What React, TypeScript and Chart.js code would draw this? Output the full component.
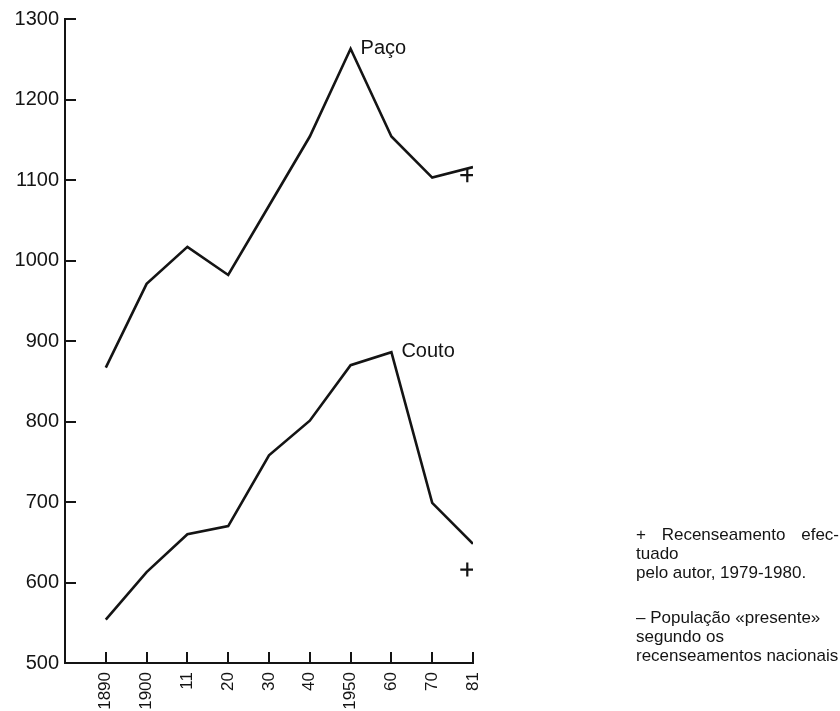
import React, { useEffect, useRef } from 'react';
import { Chart, registerables } from 'chart.js';

Chart.register(...registerables);

// Census years (category labels as printed on the x axis)
const categories = ['1890', '1900', '11', '20', '30', '40', '1950', '60', '70', '81'];
// "População presente" according to national censuses
const pacoValues = [867, 971, 1017, 982, 1068, 1154, 1263, 1154, 1103, 1116];
const coutoValues = [554, 613, 660, 670, 758, 801, 870, 886, 699, 648];
// Census carried out by the author, 1979-1980 (x in category-index units)
const authorCensusX = [8.86, 8.86];
const authorCensusValues = [1106, 616];
const seriesNames = ['Paço', 'Couto'];
const yTicks = [500, 600, 700, 800, 900, 1000, 1100, 1200, 1300];

const INK = '#141414';
const FONT = '"Liberation Sans", Arial, Helvetica, sans-serif';

const decorations = {
  id: 'decorations',
  afterDatasetsDraw(chart: any) {
    const { ctx, chartArea } = chart;
    const x = chart.scales.x;
    const y = chart.scales.y;
    ctx.save();
    ctx.strokeStyle = INK;
    ctx.lineWidth = 2;
    yTicks.forEach((v) => {
      const py = Math.round(y.getPixelForValue(v));
      ctx.beginPath();
      ctx.moveTo(chartArea.left, py);
      ctx.lineTo(chartArea.left + 11, py);
      ctx.stroke();
    });
    categories.forEach((_, i) => {
      const px = Math.round(x.getPixelForValue(i));
      ctx.beginPath();
      ctx.moveTo(px, chartArea.bottom);
      ctx.lineTo(px, chartArea.bottom - 11);
      ctx.stroke();
    });
    ctx.fillStyle = INK;
    ctx.font = `20px ${FONT}`;
    ctx.textAlign = 'left';
    ctx.textBaseline = 'alphabetic';
    [pacoValues, coutoValues].forEach((vals, s) => {
      let k = 0;
      vals.forEach((v, i) => {
        if (v > vals[k]) k = i;
      });
      const px = x.getPixelForValue(k);
      const py = y.getPixelForValue(vals[k]);
      ctx.fillText(seriesNames[s], px + 10, py + 5);
    });
    ctx.restore();
  },
};

export default function App() {
  const ref = useRef<HTMLCanvasElement | null>(null);

  useEffect(() => {
    if (!ref.current) return;
    const lineStyle = {
      borderColor: INK,
      borderWidth: 2.6,
      pointRadius: 0,
      fill: false,
      tension: 0,
    };
    const chart = new Chart(ref.current, {
      type: 'line',
      data: {
        datasets: [
          {
            label: seriesNames[0],
            data: pacoValues.map((v, i) => ({ x: i, y: v })),
            ...lineStyle,
          },
          {
            label: seriesNames[1],
            data: coutoValues.map((v, i) => ({ x: i, y: v })),
            ...lineStyle,
          },
          {
            label: 'Recenseamento efectuado pelo autor',
            data: authorCensusValues.map((v, i) => ({ x: authorCensusX[i], y: v })),
            showLine: false,
            pointStyle: 'cross',
            pointRadius: 7,
            pointBorderWidth: 2.2,
            pointBorderColor: INK,
            pointBackgroundColor: INK,
            borderColor: INK,
          },
        ],
      },
      options: {
        responsive: false,
        animation: false,
        layout: { padding: { top: 19, right: 367, left: 0, bottom: 0 } },
        plugins: {
          legend: { display: false },
          tooltip: { enabled: false },
        },
        scales: {
          x: {
            type: 'linear',
            min: -1,
            max: 9,
            grid: { display: false, drawTicks: false, tickLength: 0 },
            border: { display: true, color: INK, width: 2 },
            afterFit: (scale: any) => {
              scale.height = 48;
            },
            ticks: {
              stepSize: 1,
              autoSkip: false,
              minRotation: 90,
              maxRotation: 90,
              padding: 9,
              color: INK,
              font: { family: FONT, size: 17 },
              callback: (v: any) => (v >= 0 && v < categories.length ? categories[v] : ''),
            },
          },
          y: {
            type: 'linear',
            min: 500,
            max: 1300,
            grid: { display: false, drawTicks: false, tickLength: 0 },
            border: { display: true, color: INK, width: 2 },
            afterFit: (scale: any) => {
              scale.width = 65;
            },
            ticks: {
              stepSize: 100,
              padding: 6,
              color: INK,
              font: { family: FONT, size: 20 },
              callback: (v: any) => String(v),
            },
          },
        },
      },
      plugins: [decorations],
    });
    return () => chart.destroy();
  }, []);

  const noteStyle: React.CSSProperties = {
    position: 'absolute',
    left: 636,
    top: 525,
    fontFamily: FONT,
    fontSize: 17,
    lineHeight: '19px',
    color: INK,
    whiteSpace: 'nowrap',
  };

  return (
    <div style={{ position: 'absolute', left: 0, top: 0, width: 840, height: 711, overflow: 'hidden', background: '#fff' }}>
      <canvas ref={ref} width={840} height={711} style={{ display: 'block' }} />
      <div style={noteStyle}>
        <div style={{ width: 203, textAlign: 'justify', textAlignLast: 'justify' }}>+ Recenseamento efec-</div>
        <div>tuado</div>
        <div>pelo autor, 1979-1980.</div>
        <div style={{ height: 26 }} />
        <div>– População «presente»</div>
        <div>segundo os</div>
        <div>recenseamentos nacionais</div>
      </div>
    </div>
  );
}
